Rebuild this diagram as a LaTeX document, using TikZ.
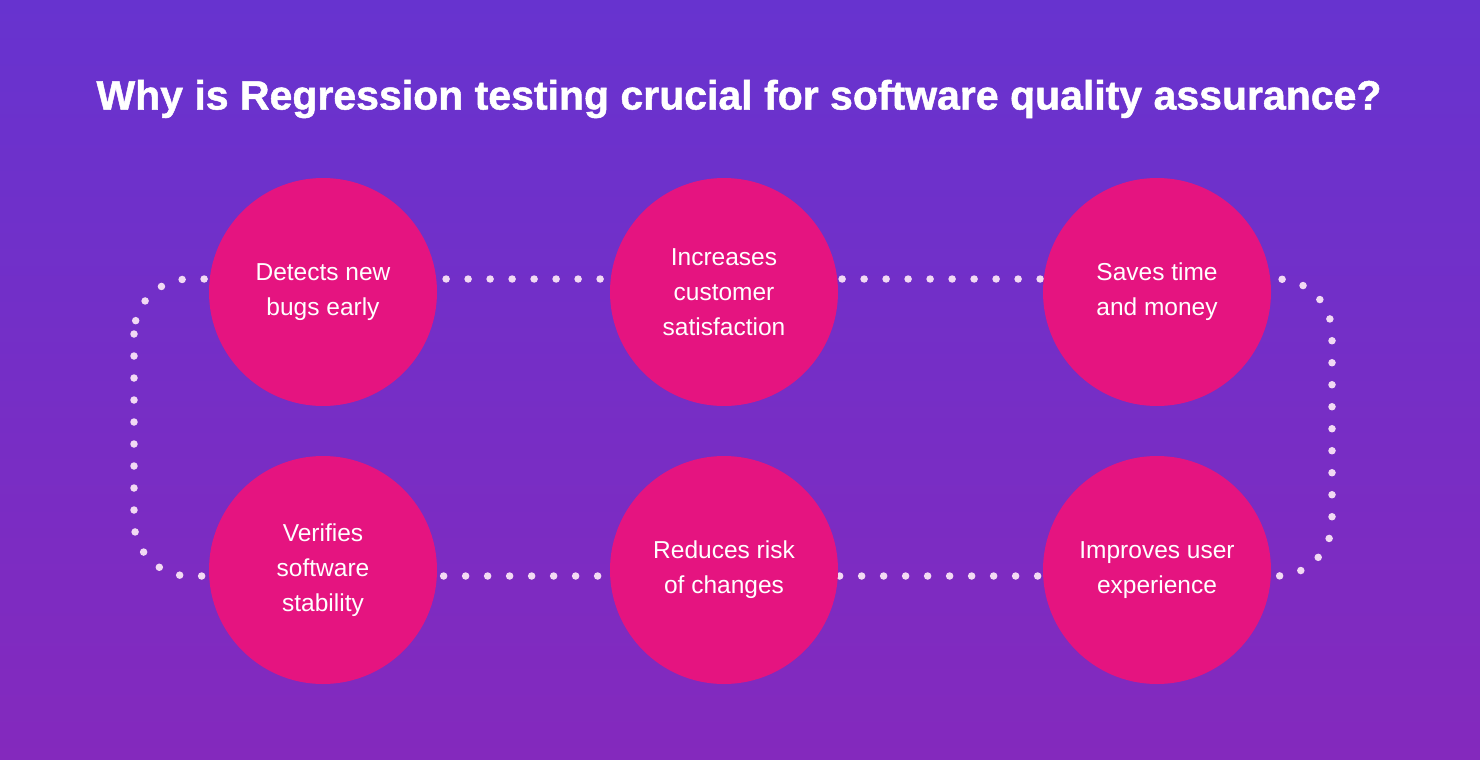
\documentclass[tikz,border=0pt]{standalone}
\usepackage{fontspec}
\setmainfont{Liberation Sans}
\newfontfamily\titlefont[FakeBold=1.2]{Liberation Sans Bold}
\definecolor{bgtop}{RGB}{103,51,207}
\definecolor{bgbot}{RGB}{132,41,189}
\definecolor{bubble}{RGB}{229,20,128}
\definecolor{dotcol}{RGB}{252,232,248}
\tikzset{
  bub/.style={circle,fill=bubble,minimum size=228pt,inner sep=0pt,text=white,align=center,font=\fontsize{24.5}{35}\selectfont},
  dotloop/.style={draw=dotcol,draw opacity=0.92,line width=7.5pt,line cap=round,dash pattern=on 0pt off 22pt},
  titletext/.style={text=white,font=\titlefont\fontsize{41}{48}\selectfont,inner sep=0pt}
}
\begin{document}
\begin{tikzpicture}[x=1pt,y=-1pt]
\shade[top color=bgtop,bottom color=bgbot] (0,0) rectangle (1480,760);
\useasboundingbox (0,0) rectangle (1480,760);
\node[titletext] (title) at (739,99) {Why is Regression testing crucial for software quality assurance?};
\draw[dotloop,rounded corners=55pt] (134,279) rectangle (1332,576);
\node[bub] (c1) at (323,292) {Detects new\\bugs early};
\node[bub] (c2) at (724,292) {Increases\\customer\\satisfaction};
\node[bub] (c3) at (1157,292) {Saves time\\and money};
\node[bub] (c4) at (323,570) {Verifies\\software\\stability};
\node[bub] (c5) at (724,570) {Reduces risk\\of changes};
\node[bub] (c6) at (1157,570) {Improves user\\experience};
\end{tikzpicture}
\end{document}
